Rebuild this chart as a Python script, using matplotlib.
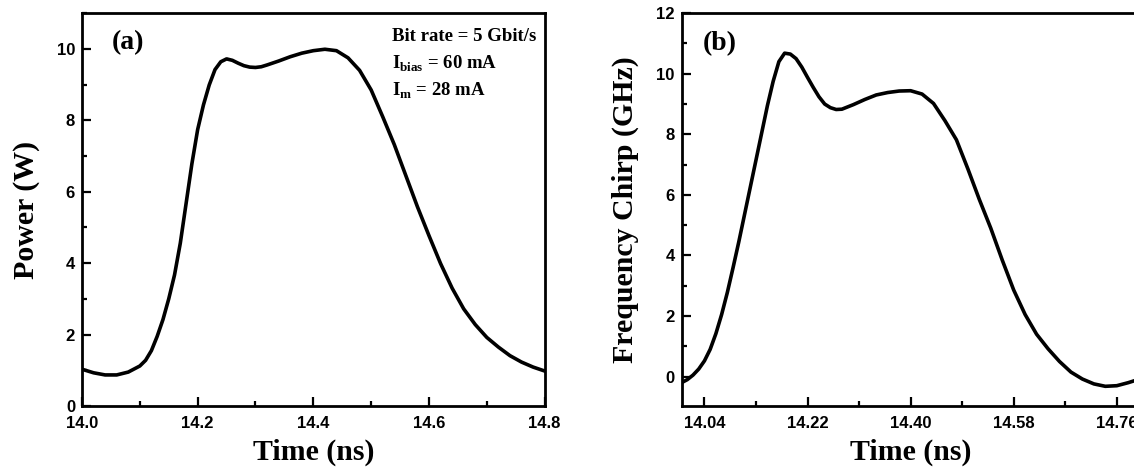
import matplotlib.pyplot as plt
from matplotlib.ticker import MultipleLocator, FixedLocator

# (a) optical power pulse
time_a = [14.00, 14.02, 14.04, 14.06, 14.08, 14.10, 14.11, 14.12, 14.13, 14.14,
          14.15, 14.16, 14.17, 14.18, 14.19, 14.20, 14.21, 14.22, 14.23, 14.24,
          14.25, 14.26, 14.27, 14.28, 14.29, 14.30, 14.31, 14.32, 14.34, 14.36,
          14.38, 14.40, 14.42, 14.44, 14.46, 14.48, 14.50, 14.52, 14.54, 14.56,
          14.58, 14.60, 14.62, 14.64, 14.66, 14.68, 14.70, 14.72, 14.74, 14.76,
          14.78, 14.80]
power = [1.03, 0.93, 0.87, 0.87, 0.95, 1.12, 1.28, 1.55, 1.95, 2.42,
         3.00, 3.67, 4.56, 5.67, 6.78, 7.74, 8.43, 8.99, 9.42, 9.64,
         9.72, 9.68, 9.60, 9.53, 9.49, 9.48, 9.50, 9.55, 9.66, 9.78,
         9.88, 9.95, 9.99, 9.95, 9.75, 9.40, 8.85, 8.10, 7.32, 6.45,
         5.58, 4.77, 3.99, 3.30, 2.72, 2.28, 1.92, 1.65, 1.41, 1.23,
         1.09, 0.98]

# (b) frequency chirp
time_b = [14.00, 14.01, 14.02, 14.03, 14.04, 14.05, 14.06, 14.07, 14.08, 14.09,
          14.10, 14.11, 14.12, 14.13, 14.14, 14.15, 14.16, 14.17, 14.18, 14.19,
          14.20, 14.21, 14.22, 14.23, 14.24, 14.25, 14.26, 14.27, 14.28, 14.30,
          14.32, 14.34, 14.36, 14.38, 14.40, 14.42, 14.44, 14.46, 14.48, 14.50,
          14.52, 14.54, 14.56, 14.58, 14.60, 14.62, 14.64, 14.66, 14.68, 14.70,
          14.72, 14.74, 14.76, 14.78, 14.80]
chirp = [-0.20, -0.10, 0.05, 0.25, 0.52, 0.90, 1.42, 2.05, 2.78, 3.60,
         4.45, 5.35, 6.25, 7.15, 8.05, 8.95, 9.75, 10.40, 10.68, 10.65,
         10.50, 10.22, 9.88, 9.55, 9.24, 9.00, 8.88, 8.82, 8.83, 8.98,
         9.15, 9.30, 9.38, 9.43, 9.44, 9.33, 9.02, 8.45, 7.82, 6.86,
         5.85, 4.90, 3.85, 2.86, 2.05, 1.40, 0.92, 0.50, 0.15, -0.08,
         -0.24, -0.32, -0.30, -0.20, -0.08]

xticks_b = [14.04, 14.22, 14.40, 14.58, 14.76]
xticklabels_b = ["14.04", "14.22", "14.40", "14.58", "14.76"]
xminor_b = [14.13, 14.31, 14.49, 14.67]

info_lines = ["Bit rate = 5 Gbit/s",
              r"I$_{\mathregular{bias}}$ = 60 mA",
              r"I$_{\mathregular{m}}$ = 28 mA"]

SERIF = "Liberation Serif"
SANS = "Liberation Sans"


def style_axes(ax):
    for s in ax.spines.values():
        s.set_linewidth(2.0)
    ax.tick_params(which="both", direction="in", top=False, right=False, width=1.6)
    ax.tick_params(which="major", length=6.5, labelsize=12)
    ax.tick_params(which="minor", length=3.8)
    ax.tick_params(axis="x", which="major", pad=7)
    ax.tick_params(axis="y", which="major", pad=5)
    for lab in ax.get_xticklabels() + ax.get_yticklabels():
        lab.set_fontfamily(SANS)
        lab.set_fontweight("bold")


fig = plt.figure(figsize=(11.34, 4.71), dpi=100)

ax1 = fig.add_axes([0.0723, 0.138, 0.408, 0.834])
ax1.plot(time_a, power, color="black", lw=2.6, solid_joinstyle="round")
ax1.set_xlim(14.0, 14.8)
ax1.set_ylim(0, 11)
ax1.xaxis.set_major_locator(MultipleLocator(0.2))
ax1.xaxis.set_minor_locator(MultipleLocator(0.1))
ax1.yaxis.set_major_locator(MultipleLocator(2))
ax1.yaxis.set_minor_locator(MultipleLocator(1))
style_axes(ax1)
ax1.set_xlabel("Time (ns)", fontfamily=SERIF, fontweight="bold", fontsize=21.5, labelpad=6)
ax1.set_ylabel("Power (W)", fontfamily=SERIF, fontweight="bold", fontsize=21.5, labelpad=12)
ax1.text(14.052, 10.17, "(a)", fontfamily=SERIF, fontweight="bold", fontsize=20,
         va="center", ha="left")
for i, line in enumerate(info_lines):
    ax1.text(14.536, 10.36 - i * 0.77, line, fontfamily=SERIF, fontweight="bold",
             fontsize=13.5, va="center", ha="left")

ax2 = fig.add_axes([0.601, 0.138, 0.404, 0.834])
ax2.plot(time_b, chirp, color="black", lw=2.6, solid_joinstyle="round")
ax2.set_xlim(14.0, 14.8)
ax2.set_ylim(-0.97, 12)
ax2.xaxis.set_major_locator(FixedLocator(xticks_b))
ax2.set_xticklabels(xticklabels_b)
ax2.xaxis.set_minor_locator(FixedLocator(xminor_b))
ax2.yaxis.set_major_locator(MultipleLocator(2))
ax2.yaxis.set_minor_locator(MultipleLocator(1))
style_axes(ax2)
ax2.set_xlabel("Time (ns)", fontfamily=SERIF, fontweight="bold", fontsize=21.5, labelpad=6)
ax2.set_ylabel("Frequency Chirp (GHz)", fontfamily=SERIF, fontweight="bold",
               fontsize=21.5, labelpad=12)
ax2.text(14.037, 11.0, "(b)", fontfamily=SERIF, fontweight="bold", fontsize=20,
         va="center", ha="left")

fig.savefig("out.png", dpi=100)
